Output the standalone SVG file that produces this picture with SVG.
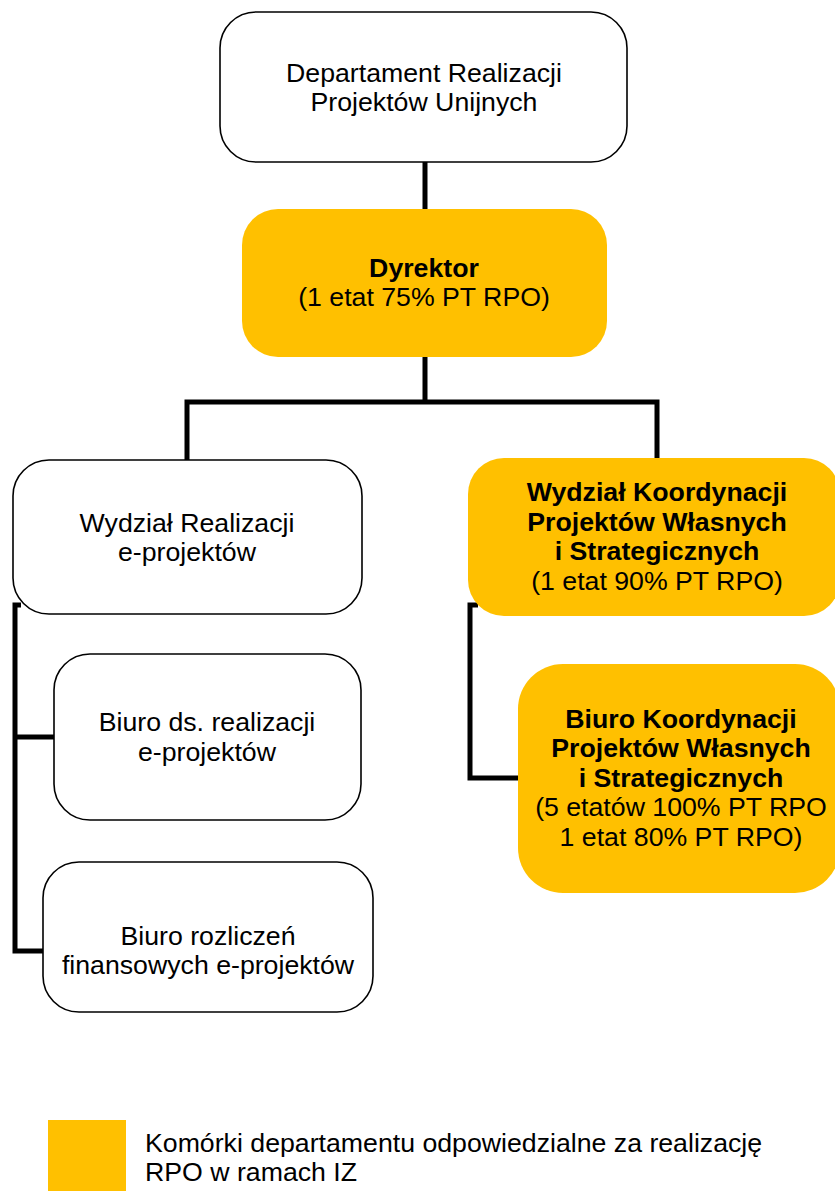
<svg xmlns="http://www.w3.org/2000/svg" width="835" height="1191" viewBox="0 0 835 1191">
<style>
text{font-family:"Liberation Sans",Arial,sans-serif;font-size:26.7px;fill:#000;text-anchor:middle}
.b{font-weight:bold}
.w{fill:#fff;stroke:#000;stroke-width:1.6}
.y{fill:#FFC000;stroke:none}
.c{fill:none;stroke:#000;stroke-width:5;stroke-linejoin:miter}
</style>
<g id="connectors">
<path class="c" d="M425 162V209"/>
<path class="c" d="M425 357V402M187 460V402H657V458"/>
<path class="c" d="M21 605H15V951H43M15 737H54"/>
<path class="c" d="M478 605H470V778H518"/>
</g>
<g id="departament">
<rect class="w" x="220" y="12" width="407" height="150" rx="36"/>
<text x="424" y="82">Departament Realizacji</text>
<text x="424" y="111">Projektów Unijnych</text>
</g>
<g id="dyrektor">
<rect class="y" x="242" y="209" width="365" height="148" rx="36"/>
<text class="b" x="424" y="277">Dyrektor</text>
<text x="424" y="306">(1 etat 75% PT RPO)</text>
</g>
<g id="wydzial-realizacji">
<rect class="w" x="13" y="460" width="349" height="154" rx="36"/>
<text x="187" y="532">Wydział Realizacji</text>
<text x="187" y="561">e-projektów</text>
</g>
<g id="wydzial-koordynacji">
<rect class="y" x="468" y="458" width="372" height="158" rx="36"/>
<text class="b" x="657" y="501">Wydział Koordynacji</text>
<text class="b" x="657" y="531">Projektów Własnych</text>
<text class="b" x="657" y="560">i Strategicznych</text>
<text x="657" y="590">(1 etat 90% PT RPO)</text>
</g>
<g id="biuro-realizacji">
<rect class="w" x="54" y="654" width="307" height="166" rx="36"/>
<text x="207" y="731">Biuro ds. realizacji</text>
<text x="207" y="761">e-projektów</text>
</g>
<g id="biuro-rozliczen">
<rect class="w" x="43" y="862" width="330" height="150" rx="36"/>
<text x="208" y="945">Biuro rozliczeń</text>
<text x="208" y="974">finansowych e-projektów</text>
</g>
<g id="biuro-koordynacji">
<rect class="y" x="518" y="664" width="322" height="229" rx="45"/>
<text class="b" x="681" y="728">Biuro Koordynacji</text>
<text class="b" x="681" y="757">Projektów Własnych</text>
<text class="b" x="681" y="787">i Strategicznych</text>
<text x="681" y="816">(5 etatów 100% PT RPO</text>
<text x="681" y="846">1 etat 80% PT RPO)</text>
</g>
<g id="legend">
<rect class="y" x="48" y="1120" width="78" height="71"/>
<text x="145" y="1152" style="text-anchor:start">Komórki departamentu odpowiedzialne za realizację</text>
<text x="145" y="1181" style="text-anchor:start">RPO w ramach IZ</text>
</g>
</svg>
